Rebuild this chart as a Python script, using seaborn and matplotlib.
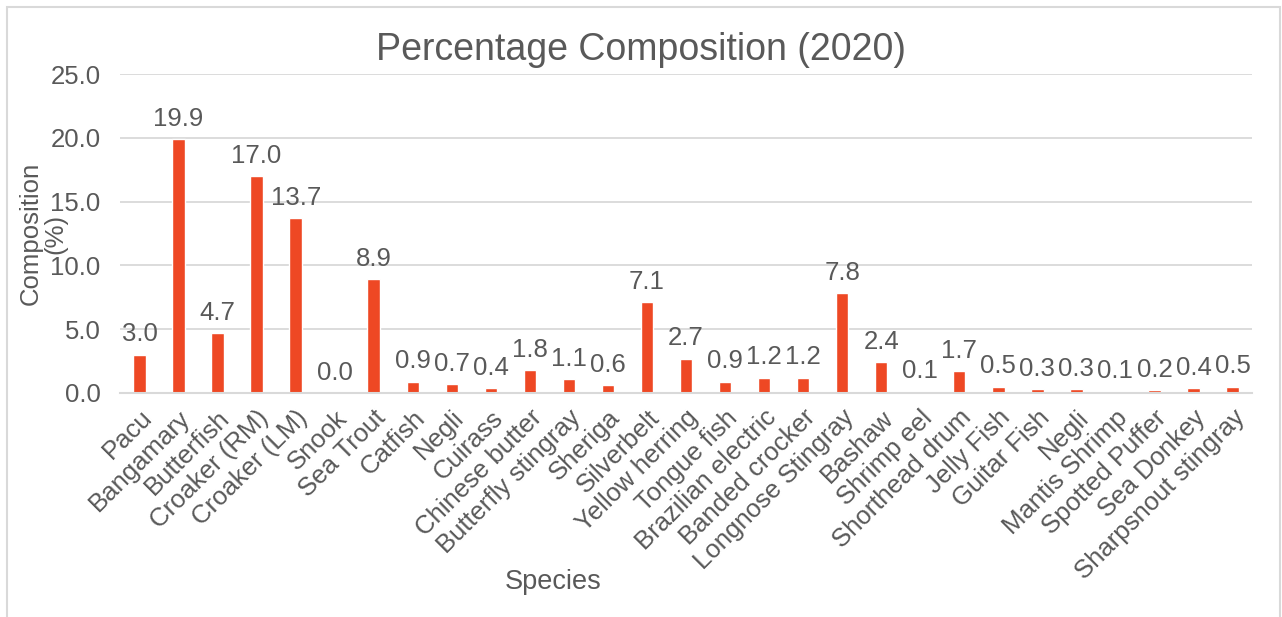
import matplotlib
matplotlib.use("Agg")
import matplotlib.pyplot as plt
from matplotlib.patches import Rectangle
import seaborn as sns
import pandas as pd

species = [
    "Pacu", "Bangamary", "Butterfish", "Croaker (RM)", "Croaker (LM)", "Snook",
    "Sea Trout", "Catfish", "Negli", "Cuirass", "Chinese butter",
    "Butterfly stingray", "Sheriga", "Silverbelt", "Yellow herring",
    "Tongue fish", "Brazilian electric", "Banded crocker", "Longnose Stingray",
    "Bashaw", "Shrimp eel", "Shorthead drum", "Jelly Fish", "Guitar Fish",
    "Negli", "Mantis Shrimp", "Spotted Puffer", "Sea Donkey",
    "Sharpsnout stingray",
]
composition = [
    3.0, 19.9, 4.7, 17.0, 13.7, 0.0, 8.9, 0.9, 0.7, 0.4, 1.8, 1.1, 0.6, 7.1,
    2.7, 0.9, 1.2, 1.2, 7.8, 2.4, 0.1, 1.7, 0.5, 0.3, 0.3, 0.1, 0.2, 0.4, 0.5,
]
y_ticks = [0, 5, 10, 15, 20, 25]

TEXT = "#595959"
GRID = "#D9D9D9"
BAR = "#EE4824"

sns.set_theme(style="white")
plt.rcParams["font.family"] = ["Liberation Sans", "DejaVu Sans"]

# "Negli" appears twice, so bars are keyed by position and labelled afterwards
df = pd.DataFrame({"pos": range(len(species)), "species": species,
                   "value": composition})

fig = plt.figure(figsize=(12.82, 6.17), dpi=100)
ax = fig.add_axes([120 / 1282, 1 - 393 / 617, 1132 / 1282, 319 / 617])

sns.barplot(data=df, x="pos", y="value", color=BAR, width=0.32,
            saturation=1, ax=ax, errorbar=None)

ax.set_ylim(0, 25)
ax.set_xlim(-0.5, len(species) - 0.5)
ax.set_yticks(y_ticks)
ax.set_yticklabels([f"{t:.1f}" for t in y_ticks])
ax.set_xticks(range(len(species)))
ax.set_xticklabels(species, rotation=45, ha="right", rotation_mode="anchor")

ax.yaxis.grid(True, color=GRID, linewidth=1.3)
ax.set_axisbelow(True)
for side in ["left", "right", "top"]:
    ax.spines[side].set_visible(False)
ax.spines["bottom"].set_color(GRID)
ax.spines["bottom"].set_linewidth(1.5)

ax.tick_params(axis="y", length=0, pad=14, labelsize=18.5, labelcolor=TEXT)
ax.tick_params(axis="x", length=0, pad=9, labelsize=18.5, labelcolor=TEXT)

ax.bar_label(ax.containers[0], labels=[f"{v:.1f}" for v in composition],
             padding=6, fontsize=18.5, color=TEXT)

ax.set_xlabel("Species", fontsize=19.5, color=TEXT)
ax.xaxis.set_label_coords(433 / 1132, -189 / 319)
ax.xaxis.label.set_va("center")
ax.set_ylabel("Composition\n(%)", fontsize=18.5, color=TEXT, linespacing=1.05)
ax.yaxis.set_label_coords(-77 / 1132, 0.5)
ax.yaxis.label.set_va("center")

fig.text(0.5, 1 - 50 / 617, "Percentage Composition (2020)", fontsize=27,
         color=TEXT, ha="center", va="center")

# chart-area frame
fig.patches.append(Rectangle((7 / 1282, -0.05), 1273 / 1282, 1.05 - 7 / 617,
                             transform=fig.transFigure, fill=False,
                             edgecolor=GRID, linewidth=1.5))

fig.savefig("out.png", dpi=100)
